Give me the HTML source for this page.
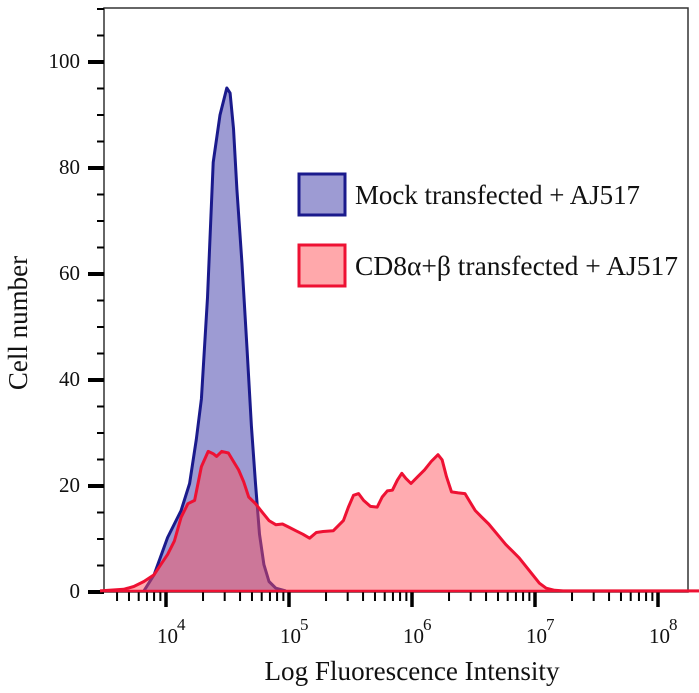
<!DOCTYPE html>
<html><head><meta charset="utf-8"><style>
body{margin:0;background:#fff;width:699px;height:693px;overflow:hidden}
svg{display:block}
text{font-family:"Liberation Serif",serif;fill:#111}
</style></head><body>
<svg id="s" width="699" height="693" viewBox="0 0 699 693">
<rect x="104" y="8" width="584" height="584" fill="none" stroke="#333" stroke-width="1.5"/>
<g id="ticks" stroke="#000"></g>
<path id="bf" fill="#9d9bd3" stroke="none"/>
<path id="bl" fill="none" stroke="#1a1a8c" stroke-width="3" stroke-linejoin="round"/>
<path id="rf" fill="rgb(255,80,90)" fill-opacity="0.48" stroke="none"/>
<path id="rl" fill="none" stroke="#ee1133" stroke-width="3" stroke-linejoin="round"/>
<line x1="104" y1="591" x2="699" y2="591" stroke="#ee1133" stroke-width="2.5"/>
<rect x="299" y="174" width="46" height="41" fill="#9d9bd3" stroke="#1a1a8c" stroke-width="3"/>
<rect x="299" y="245" width="46" height="41" fill="#ffa8ab" stroke="#ee1133" stroke-width="3"/>
<text x="355" y="204" font-size="27" textLength="285" lengthAdjust="spacingAndGlyphs">Mock transfected + AJ517</text>
<text x="355" y="275" font-size="27" textLength="323" lengthAdjust="spacingAndGlyphs">CD8α+β transfected + AJ517</text>
<g font-size="21" text-anchor="end">
<text x="80" y="598">0</text><text x="80" y="492">20</text><text x="80" y="386">40</text>
<text x="80" y="280">60</text><text x="80" y="174">80</text><text x="80" y="68">100</text>
</g>
<text transform="translate(27,323) rotate(-90)" font-size="27" text-anchor="middle">Cell number</text>
<g font-size="21" id="xl"></g>
<text x="412" y="680" font-size="27" text-anchor="middle" textLength="295" lengthAdjust="spacingAndGlyphs">Log Fluorescence Intensity</text>
</svg>
<script>
var ns="http://www.w3.org/2000/svg";
function el(p,t,a,txt){var e=document.createElementNS(ns,t);for(var k in a)e.setAttribute(k,a[k]);if(txt)e.textContent=txt;p.appendChild(e);return e;}
var tg=document.getElementById('ticks');
for(var v=0;v<=110;v+=5){var y=592-v*5.3;var maj=v%20==0;
 el(tg,'line',{x1:maj?88:97,x2:104,y1:y,y2:y,'stroke-width':maj?4:2});}
var dec=[166,289,412,535,658];
for(var d=3;d<=8;d++){for(var m=1;m<10;m++){var x=166+(d-4+Math.log10(m))*123;
 if(x<110||x>686)continue;var maj=m==1;
 el(tg,'line',{x1:x,x2:x,y1:592,y2:maj?607:601,'stroke-width':maj?3.5:2});}}
var xl=document.getElementById('xl');
for(var i=0;i<5;i++){
 el(xl,'text',{x:dec[i]-9,y:643},'10');
 el(xl,'text',{x:dec[i]+11,y:630,'font-size':17},String(i+4));}
function tr(p){return p.map(function(q){return [100+q[0]*0.338,88+(q[1]-80)*0.338];});}
var blue=tr([[130,1568],[160,1520],[200,1410],[240,1330],[265,1250],[285,1120],[300,1000],[318,700],[335,300],[355,160],[375,80],[385,95],[395,200],[405,380],[420,600],[435,850],[448,1080],[460,1250],[472,1400],[485,1490],[500,1540],[520,1560],[550,1568]]);
var red=tr([[0,1568],[70,1563],[100,1555],[130,1540],[160,1520],[180,1490],[200,1460],[220,1420],[240,1350],[260,1310],[280,1300],[300,1200],[320,1155],[335,1162],[345,1170],[360,1155],[380,1160],[395,1185],[410,1210],[425,1245],[440,1290],[460,1310],[480,1335],[500,1360],[520,1372],[540,1370],[560,1380],[580,1390],[600,1400],[620,1412],[640,1395],[660,1392],[690,1390],[705,1375],[720,1360],[735,1320],[750,1285],[765,1280],[780,1300],[800,1318],[820,1320],[835,1290],[850,1272],[865,1270],[880,1240],[893,1220],[905,1235],[920,1250],[940,1230],[960,1210],[980,1185],[1000,1165],[1012,1180],[1025,1230],[1040,1275],[1060,1278],[1080,1280],[1095,1305],[1110,1330],[1130,1350],[1150,1370],[1175,1400],[1200,1430],[1220,1450],[1240,1470],[1260,1495],[1280,1520],[1300,1545],[1320,1560],[1345,1566],[1370,1568],[1800,1568]]);
function path(p){return 'M'+p.map(function(q){return q[0].toFixed(1)+','+q[1].toFixed(1);}).join('L');}
var base=591;
document.getElementById('bf').setAttribute('d',path(blue)+'L'+blue[blue.length-1][0]+','+base+'L'+blue[0][0]+','+base+'Z');
document.getElementById('bl').setAttribute('d',path(blue));
document.getElementById('rf').setAttribute('d',path(red)+'L'+red[red.length-1][0]+','+base+'L'+red[0][0]+','+base+'Z');
document.getElementById('rl').setAttribute('d',path(red));
</script>
</body></html>
